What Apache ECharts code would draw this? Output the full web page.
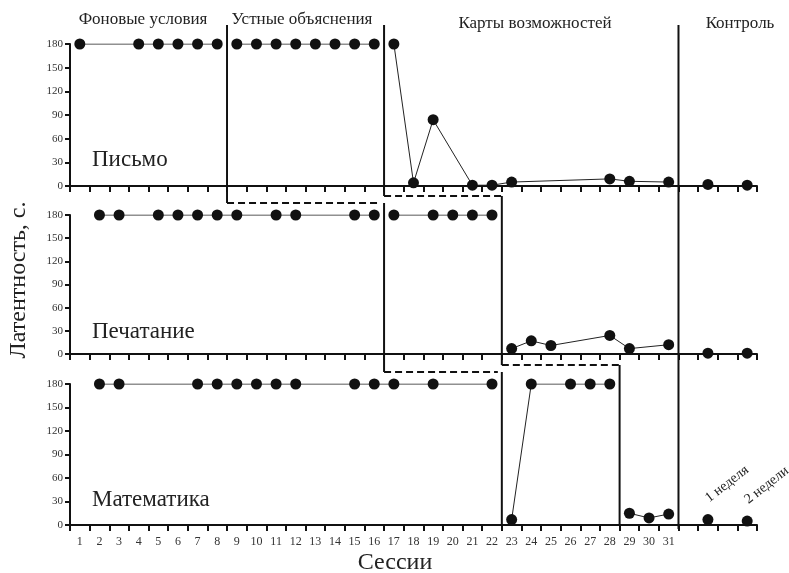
<!DOCTYPE html>
<html>
<head>
<meta charset="utf-8">
<script src="https://cdn.jsdelivr.net/npm/echarts@6/dist/echarts.min.js"></script>
<style>
html, body { margin: 0; padding: 0; background: #fff; }
#chart { width: 789px; height: 573px; }
</style>
</head>
<body>
<div id="chart"></div>
<script>
// session labels, 4 extra slots for follow-up
const sessions = ['1','2','3','4','5','6','7','8','9','10','11','12','13','14','15','16',
  '17','18','19','20','21','22','23','24','25','26','27','28','29','30','31','','','',''];

// [session, latency]
const writingBase = [[1,180],[4,180],[5,180],[6,180],[7,180],[8,180]];
const writingVerbal = [[9,180],[10,180],[11,180],[12,180],[13,180],[14,180],[15,180],[16,180]];
const writingCards = [[17,180],[18,4],[19,84],[21,1],[22,1],[23,5],[28,9],[29,6],[31,5]];
const writingFollow = [[33,2],[35,1]];

const typingBase = [[2,180],[3,180],[5,180],[6,180],[7,180],[8,180],[9,180],[11,180],[12,180],[15,180],[16,180]];
const typingVerbal = [[17,180],[19,180],[20,180],[21,180],[22,180]];
const typingCards = [[23,7],[24,17],[25,11],[28,24],[29,7],[31,12]];
const typingFollow = [[33,1],[35,1]];

const mathBase = [[2,180],[3,180],[7,180],[8,180],[9,180],[10,180],[11,180],[12,180],[15,180],[16,180],[17,180],[19,180],[22,180]];
const mathCards = [[23,7],[24,180],[26,180],[27,180],[28,180]];
const mathCards2 = [[29,15],[30,9],[31,14]];
const mathFollow = [[33,7],[35,5]];

const followLabels = ['1 неделя', '2 недели'];
const panelNames = ['Письмо', 'Печатание', 'Математика'];
const phaseNames = ['Фоновые условия', 'Устные объяснения', 'Карты возможностей', 'Контроль'];

const font = '"Liberation Serif", "DejaVu Serif", serif';
const ink = '#111';

const chart = echarts.init(document.getElementById('chart'));

const grids = [
  { left: 70, right: 32, top: 44, height: 142 },
  { left: 70, right: 32, top: 215, height: 139 },
  { left: 70, right: 32, top: 384, height: 141 }
];

function toIdx(arr) {
  return arr.map(d => [d[0] - 1, d[1]]);
}

function lineSeries(g, arr, joined) {
  return {
    type: 'line',
    xAxisIndex: g,
    yAxisIndex: g,
    data: toIdx(arr),
    symbol: 'circle',
    symbolSize: 11,
    itemStyle: { color: ink },
    lineStyle: { color: '#222', width: joined ? 1 : 0 },
    connectNulls: true,
    animation: false,
    z: 5
  };
}

const xAxes = grids.map((g, i) => ({
  type: 'category',
  gridIndex: i,
  data: sessions,
  boundaryGap: true,
  axisLine: { lineStyle: { color: ink, width: 2 } },
  axisTick: { show: true, interval: 0, length: 6, lineStyle: { color: ink, width: 2 } },
  axisLabel: { show: i === 2, interval: 0, color: '#333', fontSize: 12, fontFamily: font, margin: 11 },
  splitLine: { show: false }
}));

const yAxes = grids.map((g, i) => ({
  type: 'value',
  gridIndex: i,
  min: 0,
  max: 180,
  interval: 30,
  axisLine: { show: true, lineStyle: { color: ink, width: 2 } },
  axisTick: { show: true, length: 5, lineStyle: { color: ink, width: 2 } },
  axisLabel: { color: '#333', fontSize: 11, fontFamily: font, margin: 7 },
  splitLine: { show: false }
}));

const followSeries = lineSeries(2, mathFollow, false);
followSeries.label = {
  show: true,
  position: 'top',
  distance: 5,
  rotate: 38,
  align: 'left',
  verticalAlign: 'bottom',
  offset: [5, -1],
  fontFamily: font,
  fontSize: 14,
  color: '#222',
  formatter: p => followLabels[p.dataIndex]
};

chart.setOption({
  animation: false,
  grid: grids,
  xAxis: xAxes,
  yAxis: yAxes,
  series: [
    lineSeries(0, writingBase, true),
    lineSeries(0, writingVerbal, true),
    lineSeries(0, writingCards, true),
    lineSeries(0, writingFollow, false),
    lineSeries(1, typingBase, true),
    lineSeries(1, typingVerbal, true),
    lineSeries(1, typingCards, true),
    lineSeries(1, typingFollow, false),
    lineSeries(2, mathBase, true),
    lineSeries(2, mathCards, true),
    lineSeries(2, mathCards2, true),
    followSeries
  ]
});

// phase-change lines placed from the axis scales
const px0 = chart.convertToPixel({ gridIndex: 0 }, [0, 0])[0];
const px1 = chart.convertToPixel({ gridIndex: 0 }, [1, 0])[0];
const band = px1 - px0;
function after(s) { return px0 + (s - 1) * band + band / 2; }
function zeroY(g) { return chart.convertToPixel({ gridIndex: g }, [0, 0])[1]; }

const solid = { stroke: ink, lineWidth: 2 };
const dashed = { stroke: ink, lineWidth: 2, lineDash: [7, 4] };
function seg(x1, y1, x2, y2, style) {
  return { type: 'line', shape: { x1, y1, x2, y2 }, style, silent: true, z: 10 };
}

const y1a = zeroY(0) + 17, y1b = zeroY(0) + 10;
const y2a = zeroY(1) + 18, y2b = zeroY(1) + 11;
const yEnd = zeroY(2);
const topY = 25;

const graphics = [
  // first staircase: Письмо → Печатание → Математика (verbal)
  seg(after(8), topY, after(8), y1a, solid),
  seg(after(8), y1a, after(16) - 4, y1a, dashed),
  seg(after(16), y1a, after(16), y2a, solid),
  seg(after(16), y2a, after(22) - 4, y2a, dashed),
  seg(after(22), y2a, after(22), yEnd, solid),
  // second staircase (cards)
  seg(after(16), topY, after(16), y1b, solid),
  seg(after(16), y1b, after(22), y1b, dashed),
  seg(after(22), y1b, after(22), y2b, solid),
  seg(after(22), y2b, after(28), y2b, dashed),
  seg(after(28), y2b, after(28), yEnd, solid),
  // follow-up
  seg(after(31), topY, after(31), yEnd + 4, solid)
];

const phaseX = [143, 302, 535, 740];
const phaseY = [20, 20, 24, 24];
phaseNames.forEach((t, i) => {
  graphics.push({
    type: 'text', x: phaseX[i], y: phaseY[i],
    style: { text: t, font: '17px ' + font, fill: '#222', align: 'center', verticalAlign: 'middle' }
  });
});

const panelY = [160, 332, 500];
panelNames.forEach((t, i) => {
  graphics.push({
    type: 'text', x: 92, y: panelY[i],
    style: { text: t, font: '23px ' + font, fill: '#222', align: 'left', verticalAlign: 'middle' }
  });
});

graphics.push({
  type: 'text', x: 19, y: 280, rotation: Math.PI / 2,
  style: { text: 'Латентность, с.', font: '24px ' + font, fill: '#222', align: 'center', verticalAlign: 'middle' }
});
graphics.push({
  type: 'text', x: 395, y: 563,
  style: { text: 'Сессии', font: '24px ' + font, fill: '#222', align: 'center', verticalAlign: 'middle' }
});

chart.setOption({ graphic: graphics });
</script>
</body>
</html>
